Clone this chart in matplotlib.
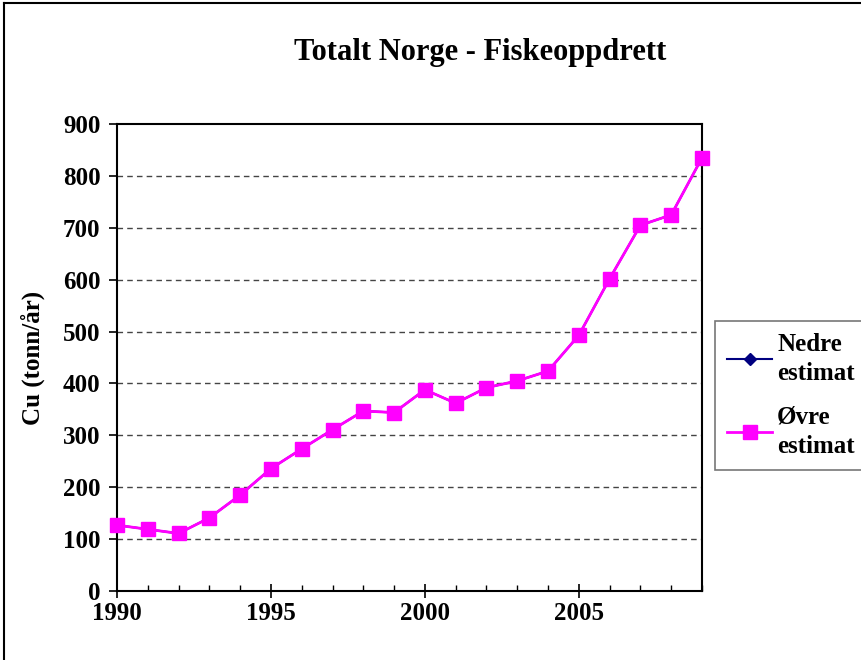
import matplotlib.pyplot as plt
from matplotlib.lines import Line2D
from matplotlib.ticker import MultipleLocator

plt.rcParams['font.family'] = ['Liberation Serif', 'DejaVu Serif']
plt.rcParams['font.weight'] = 'bold'

years = list(range(1990, 2010))
# nedre estimat ligger under øvre estimat i figuren (samme verdier)
nedre = [127, 119, 111, 141, 185, 236, 274, 311, 347, 344,
         388, 362, 392, 405, 424, 493, 602, 705, 725, 835]
ovre = [127, 119, 111, 141, 185, 236, 274, 311, 347, 344,
        388, 362, 392, 405, 424, 493, 602, 705, 725, 835]

fig = plt.figure(figsize=(8.62, 6.6), dpi=100)
ax = fig.add_axes([0.1357, 0.1045, 0.6787, 0.7075])

ax.plot(years, nedre, color='#000080', marker='D', markersize=6,
        linewidth=1.5, label='Nedre\nestimat', zorder=3)
ax.plot(years, ovre, color='#FF00FF', marker='s', markersize=10,
        linewidth=2, label='Øvre\nestimat', zorder=4, clip_on=False)

ax.set_xlim(1990, 2009)
ax.set_ylim(0, 900)
ax.set_xticks([1990, 1995, 2000, 2005])
ax.xaxis.set_minor_locator(MultipleLocator(1))
ax.yaxis.set_major_locator(MultipleLocator(100))
ax.tick_params(axis='x', which='major', direction='inout', length=10, width=1.2,
               labelsize=18, pad=3)
ax.tick_params(axis='x', which='minor', direction='in', length=4, width=1)
ax.tick_params(axis='y', which='major', direction='out', length=6, width=1.2,
               labelsize=18, pad=6)
for lab in ax.get_xticklabels() + ax.get_yticklabels():
    lab.set_fontweight('bold')

for v in range(100, 900, 100):
    ax.axhline(v, color='#444444', linestyle=(0, (4, 3)), linewidth=1, zorder=1)

for s in ax.spines.values():
    s.set_linewidth(1.5)

ax.set_ylabel('Cu (tonn/år)', fontsize=18, fontweight='bold', labelpad=13)
fig.text(0.557, 0.921, 'Totalt Norge - Fiskeoppdrett', ha='center', va='center',
         fontsize=22, fontweight='bold')

leg = fig.legend(loc='center', bbox_to_anchor=(0.9176, 0.401),
                 fontsize=18, frameon=True, fancybox=False,
                 edgecolor='#555555', handlelength=1.8, labelspacing=0.8,
                 handletextpad=0.2, borderpad=0.5, borderaxespad=0)
leg.get_frame().set_linewidth(1.2)
for t in leg.get_texts():
    t.set_fontweight('bold')
    t.set_linespacing(1.35)

# ytre ramme (kun venstre og topp synlig)
fig.add_artist(Line2D([0.005, 0.005], [0, 0.995], transform=fig.transFigure,
                      color='black', linewidth=1.5))
fig.add_artist(Line2D([0.005, 1], [0.995, 0.995], transform=fig.transFigure,
                      color='black', linewidth=1.5))

fig.savefig('out.png', dpi=100)
